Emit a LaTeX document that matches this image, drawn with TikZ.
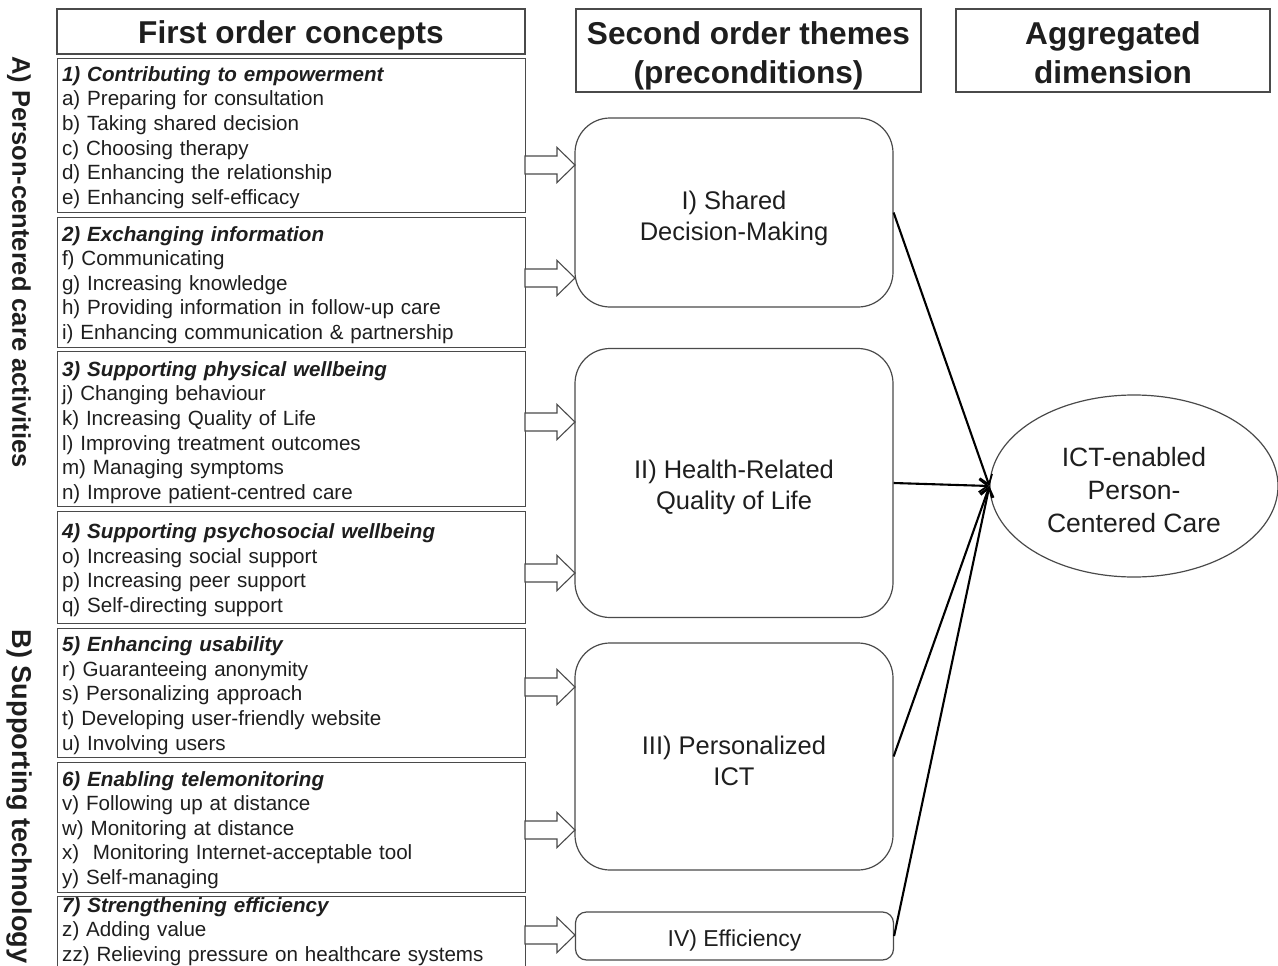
\documentclass[tikz,border=0pt]{standalone}
\usepackage{fontspec}
\setmainfont{Liberation Sans}
\usetikzlibrary{arrows.meta,shapes.geometric}
\definecolor{ink}{HTML}{1E1E1E}
\definecolor{edge}{HTML}{4A4A4A}
\newcommand\hollowarrow[1]{\draw[barrow] (#1) ++(0,-9) -- ++(32,0) -- ++(0,-8.5) -- ++(18,17.5) -- ++(-18,17.5) -- ++(0,-8.5) -- ++(-32,0) -- cycle;}
\begin{document}
\begin{tikzpicture}[x=1pt,y=-1pt,
  every node/.style={text=ink},
  cbox/.style={draw=edge, line width=1.1pt, inner sep=0pt, anchor=north west, minimum width=468pt},
  ctext/.style={inner xsep=5pt, inner ysep=0pt, align=left, text width=458pt,
    font=\fontsize{20.6}{24.6}\selectfont},
  hbox/.style={draw=edge, line width=1.1pt, inner sep=0pt},
  htext/.style={inner sep=0pt, align=center, font=\bfseries\fontsize{31.6}{39}\selectfont},
  rbox/.style={draw=edge, line width=1.2pt, rounded corners=35pt, minimum width=318pt, inner sep=0pt},
  rtext/.style={inner sep=0pt, align=center, font=\fontsize{25.5}{31}\selectfont},
  side/.style={rotate=-90, inner sep=0pt, font=\bfseries\fontsize{25.5}{30}\selectfont},
  barrow/.style={draw=edge, line width=1.1pt, fill=white, line join=miter},
  conn/.style={draw=black, line width=2.1pt, -{Straight Barb[length=9pt,width=13pt,line width=1.8pt]}}
]
\useasboundingbox (0,0) rectangle (1278,966);

% headers
\node[hbox, minimum width=468pt, minimum height=45pt] (h1) at (291,31.5) {};
\node[htext] (h1t) at (291,35.5) {First order concepts};
\node[hbox, minimum width=345pt, minimum height=83pt] (h2) at (748.5,50.5) {};
\node[htext] (h2t) at (748.5,55.5) {Second order themes\\(preconditions)};
\node[hbox, minimum width=314pt, minimum height=83pt] (h3) at (1113,50.5) {};
\node[htext] (h3t) at (1113,52.5) {Aggregated\\dimension};

% side labels
\node[side] (labA) at (19,262) {A) Person-centered care activities};
\node[side, font=\bfseries\fontsize{27.2}{32}\selectfont] (labB) at (19,796.5) {B) Supporting technology};

% first order concept boxes
\node[cbox, minimum height=154pt] (b1) at (57,58) {};
\node[ctext] (t1) at (291,137.5) {\textbf{\textit{1) Contributing to empowerment}}\\
a) Preparing for consultation\\
b) Taking shared decision\\
c) Choosing therapy\\
d) Enhancing the relationship\\
e) Enhancing self-efficacy};
\node[cbox, minimum height=130pt] (b2) at (57,217) {};
\node[ctext] (t2) at (291,285) {\textbf{\textit{2) Exchanging information}}\\
f) Communicating\\
g) Increasing knowledge\\
h) Providing information in follow-up care\\
i) Enhancing communication \& partnership};
\node[cbox, minimum height=155pt] (b3) at (57,351) {};
\node[ctext] (t3) at (291,432.5) {\textbf{\textit{3) Supporting physical wellbeing}}\\
j) Changing behaviour\\
k) Increasing Quality of Life\\
l) Improving treatment outcomes\\
m) Managing symptoms\\
n) Improve patient-centred care};
\node[cbox, minimum height=112pt] (b4) at (57,511) {};
\node[ctext] (t4) at (291,570) {\textbf{\textit{4) Supporting psychosocial wellbeing}}\\
o) Increasing social support\\
p) Increasing peer support\\
q) Self-directing support};
\node[cbox, minimum height=129pt] (b5) at (57,628) {};
\node[ctext] (t5) at (291,695.5) {\textbf{\textit{5) Enhancing usability}}\\
r) Guaranteeing anonymity\\
s) Personalizing approach\\
t) Developing user-friendly website\\
u) Involving users};
\node[cbox, minimum height=130pt] (b6) at (57,762) {};
\node[ctext] (t6) at (291,830) {\textbf{\textit{6) Enabling telemonitoring}}\\
v) Following up at distance\\
w) Monitoring at distance\\
x)\ \ Monitoring Internet-acceptable tool\\
y) Self-managing};
\node[cbox, minimum height=90pt] (b7) at (57,896) {};
\node[ctext, anchor=north west] (t7) at (57,897) {\textbf{\textit{7) Strengthening efficiency}}\\
z) Adding value\\
zz) Relieving pressure on healthcare systems};

% second order themes
\node[rbox, minimum height=189pt] (rI) at (734,212.5) {};
\node[rtext] (rIt) at (734,218.5) {I) Shared\\Decision-Making};
\node[rbox, minimum height=269pt] (rII) at (734,483) {};
\node[rtext] (rIIt) at (734,487.5) {II) Health-Related\\Quality of Life};
\node[rbox, minimum height=227pt] (rIII) at (734,756.5) {};
\node[rtext] (rIIIt) at (734,760.5) {III) Personalized\\ICT};
\node[rbox, minimum height=48pt, rounded corners=11pt] (rIV) at (734.5,936) {};
\node[rtext, font=\fontsize{23}{28}\selectfont] (rIVt) at (734.5,940.5) {IV) Efficiency};

% aggregated dimension
\node[ellipse, draw=edge, line width=1.2pt, minimum width=288pt, minimum height=182pt, inner sep=0pt] (agg) at (1134,486) {};
\node[inner sep=0pt, align=center, font=\fontsize{26.5}{33}\selectfont] (aggt) at (1134,489.7) {ICT-enabled\\Person-\\Centered Care};

% hollow block arrows
\coordinate (a1) at (525,165);
\coordinate (a2) at (525,278);
\coordinate (a3) at (525,422);
\coordinate (a4) at (525,573);
\coordinate (a5) at (525,687);
\coordinate (a6) at (525,830);
\coordinate (a7) at (525,935);
\hollowarrow{a1}
\hollowarrow{a2}
\hollowarrow{a3}
\hollowarrow{a4}
\hollowarrow{a5}
\hollowarrow{a6}
\hollowarrow{a7}

% connectors
\draw[conn] (rI.east) -- (agg.west);
\draw[conn] (rII.east) -- (agg.west);
\draw[conn] (rIII.east) -- (agg.west);
\draw[conn] (rIV.east) -- (agg.west);
\end{tikzpicture}
\end{document}
